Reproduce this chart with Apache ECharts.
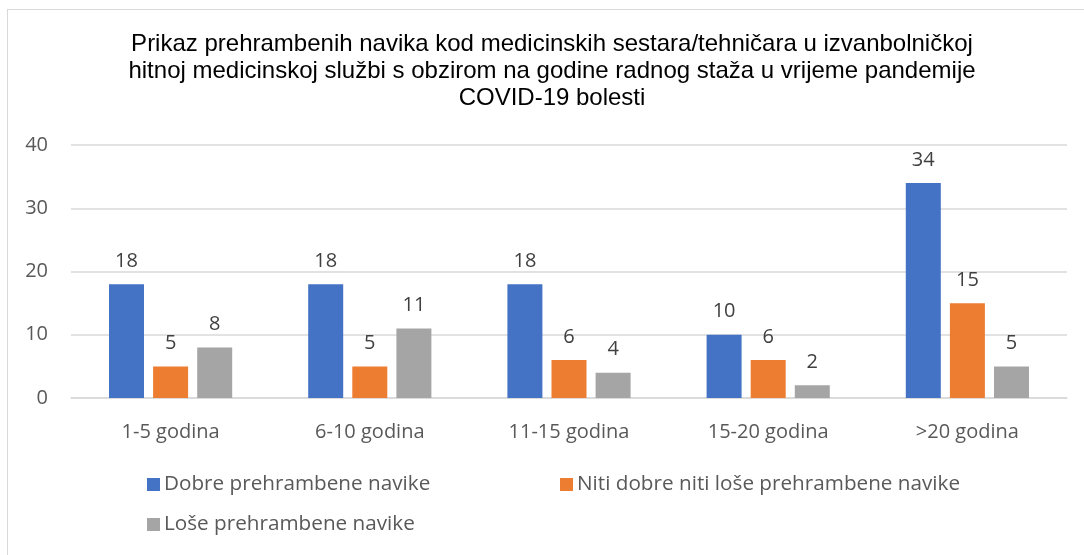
<!DOCTYPE html>
<html>
<head>
<meta charset="utf-8">
<script src="https://cdn.jsdelivr.net/npm/echarts@6/dist/echarts.min.js"></script>
<style>
  html, body { margin: 0; padding: 0; background: #fff; }
  #chart { width: 1084px; height: 555px; }
  .frame { position: absolute; left: 7px; top: 9px; width: 1090px; height: 560px; border: 1px solid #d9d9d9; box-sizing: border-box; pointer-events: none; }
</style>
</head>
<body>
<div class="frame"></div>
<div id="chart"></div>
<script>
const categories = ['1-5 godina', '6-10 godina', '11-15 godina', '15-20 godina', '>20 godina']
const dobre = [18, 18, 18, 10, 34]
const niti = [5, 5, 6, 6, 15]
const lose = [8, 11, 4, 2, 5]
const seriesNames = ['Dobre prehrambene navike', 'Niti dobre niti loše prehrambene navike', 'Loše prehrambene navike']
const yTicks = [0, 10, 20, 30, 40]

const colors = ['#4472C4', '#ED7D31', '#A5A5A5']
const labelFont = 'Open Sans'

const chart = echarts.init(document.getElementById('chart'))

const makeSeries = (name, data, index) => ({
    name: name,
    type: 'bar',
    data: data,
    barWidth: 35,
    barGap: '26%',
    itemStyle: { color: colors[index] },
    label: {
        show: true,
        position: 'top',
        distance: 13,
        color: '#404040',
        fontFamily: labelFont,
        fontSize: 20,
    },
})

const legendBase = {
    padding: 0,
    itemWidth: 13,
    itemHeight: 13,
    itemGap: 6,
    icon: 'rect',
    textStyle: { color: '#595959', fontFamily: labelFont, fontSize: 20.7, padding: [0, 0, 0, -1] },
}

chart.setOption({
    animation: false,
    title: {
        text: 'Prikaz prehrambenih navika kod medicinskih sestara/tehničara u izvanbolničkoj\nhitnoj medicinskoj službi s obzirom na godine radnog staža u vrijeme pandemije\nCOVID-19 bolesti',
        left: 552,
        top: 31,
        padding: 0,
        textAlign: 'center',
        textStyle: {
            fontFamily: 'Liberation Sans',
            fontWeight: 'normal',
            fontSize: 24,
            lineHeight: 27,
            color: '#000',
        },
    },
    legend: [
        Object.assign({}, legendBase, { data: [seriesNames[0]], left: 147, top: 474 }),
        Object.assign({}, legendBase, { data: [seriesNames[1]], left: 560, top: 474 }),
        Object.assign({}, legendBase, { data: [seriesNames[2]], left: 147, top: 514 }),
    ],
    grid: {
        left: 71,
        right: 17,
        top: 145,
        bottom: 157,
        containLabel: false,
    },
    xAxis: {
        type: 'category',
        data: categories,
        axisTick: { show: false },
        axisLine: { lineStyle: { color: '#d9d9d9', width: 1.5 } },
        axisLabel: { color: '#595959', fontFamily: labelFont, fontSize: 20, margin: 24 },
    },
    yAxis: {
        type: 'value',
        min: yTicks[0],
        max: yTicks[yTicks.length - 1],
        interval: 10,
        axisLine: { show: false },
        axisTick: { show: false },
        splitLine: { lineStyle: { color: '#d9d9d9', width: 1.5 } },
        axisLabel: { color: '#595959', fontFamily: labelFont, fontSize: 20, margin: 23 },
    },
    series: [
        makeSeries(seriesNames[0], dobre, 0),
        makeSeries(seriesNames[1], niti, 1),
        makeSeries(seriesNames[2], lose, 2),
    ],
})
</script>
</body>
</html>
